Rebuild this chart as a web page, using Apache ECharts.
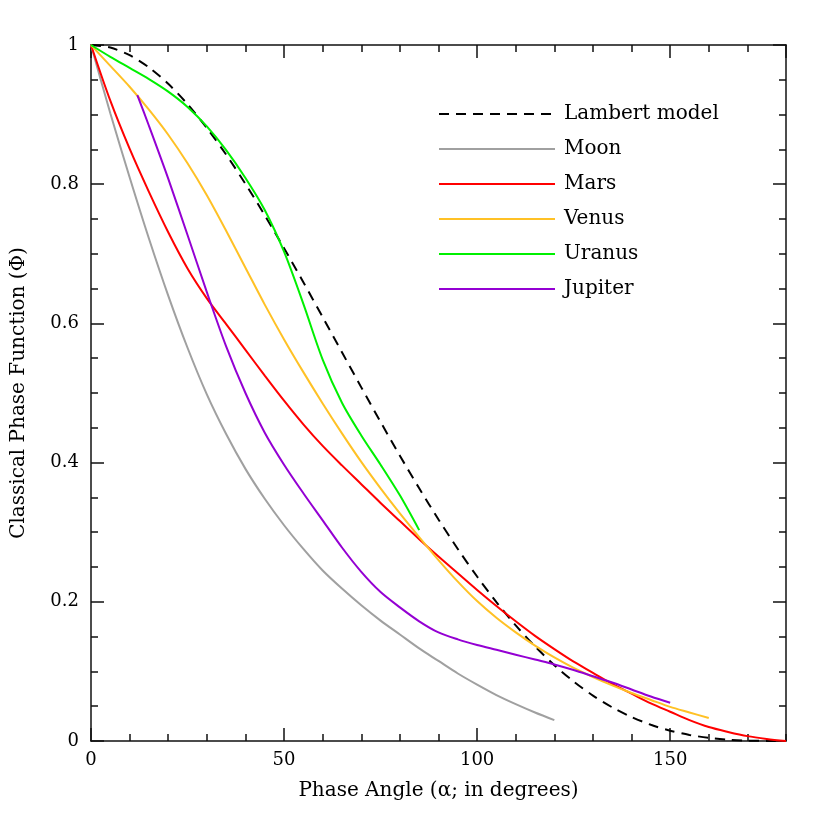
<!DOCTYPE html>
<html>
<head>
<meta charset="utf-8">
<script src="https://cdn.jsdelivr.net/npm/echarts@6/dist/echarts.min.js"></script>
<style>
  html, body { margin: 0; padding: 0; background: #fff; }
  #main { width: 830px; height: 830px; }
</style>
</head>
<body>
<div id="main"></div>
<script>
// values (phase angle in degrees, phase function)
var lambertAngle = [0,5,10,15,20,25,30,35,40,45,50,55,60,65,70,75,80,85,90,95,100,105,110,115,120,125,130,135,140,145,150,155,160,165,170,175,180];
var lambertPhi = [1,0.9963,0.9854,0.9678,0.9442,0.9150,0.8808,0.8425,0.8004,0.7554,0.7081,0.6591,0.6090,0.5585,0.5081,0.4584,0.4099,0.3631,0.3183,0.2759,0.2363,0.1996,0.1661,0.1359,0.1090,0.0855,0.0653,0.0483,0.0344,0.0233,0.0148,0.0087,0.0045,0.0019,0.0005,0.0001,0];

var moonAngle = [0,5,10,15,20,25,30,35,40,45,50,55,60,65,70,75,80,85,90,95,100,105,110,115,120];
var moonPhi = [1,0.902,0.810,0.722,0.640,0.565,0.498,0.441,0.391,0.348,0.310,0.276,0.245,0.219,0.195,0.173,0.153,0.133,0.115,0.097,0.081,0.066,0.053,0.041,0.03];

var marsAngle = [0,5,10,15,20,25,30,35,40,45,50,55,60,65,70,75,80,85,90,95,100,105,110,115,120,125,130,135,140,145,150,155,160,165,170,175,180];
var marsPhi = [1,0.92,0.851,0.789,0.731,0.679,0.636,0.599,0.562,0.525,0.489,0.455,0.424,0.396,0.369,0.342,0.316,0.29,0.265,0.241,0.217,0.194,0.172,0.151,0.132,0.114,0.098,0.082,0.068,0.054,0.042,0.030,0.020,0.013,0.007,0.003,0];

var venusAngle = [0,5,10,15,20,25,30,35,40,45,50,55,60,65,70,75,80,85,90,95,100,105,110,115,120,125,130,135,140,145,150,155,160];
var venusPhi = [1,0.970,0.940,0.907,0.871,0.830,0.784,0.733,0.680,0.627,0.577,0.530,0.485,0.442,0.401,0.363,0.327,0.293,0.260,0.229,0.201,0.177,0.156,0.137,0.120,0.105,0.092,0.080,0.069,0.059,0.049,0.041,0.033];

var uranusAngle = [0,5,10,15,20,25,30,35,40,45,50,55,60,65,70,75,80,85];
var uranusPhi = [1,0.983,0.967,0.951,0.933,0.911,0.883,0.849,0.809,0.763,0.703,0.628,0.548,0.486,0.439,0.397,0.353,0.303];

var jupiterAngle = [12,15,20,25,30,35,40,45,50,55,60,65,70,75,80,85,90,95,100,105,110,115,120,125,130,135,140,145,150];
var jupiterPhi = [0.928,0.884,0.808,0.727,0.645,0.567,0.500,0.443,0.397,0.356,0.317,0.278,0.243,0.214,0.192,0.172,0.156,0.146,0.138,0.131,0.124,0.117,0.110,0.102,0.093,0.084,0.074,0.064,0.055];

function pairs(xs, ys){
	var out = [];
	for (var i = 0; i < xs.length; i++) { out.push([xs[i], ys[i]]); }
	return out;
}

var fontName = 'DejaVu Serif';
var frameColor = '#111';
var gridBox = { left: 91, right: 44, top: 45, bottom: 89, containLabel: false };

function lineSeries(name, xs, ys, color, dashed){
	return {
		name: name,
		type: 'line',
		xAxisIndex: 0, yAxisIndex: 0,
		data: pairs(xs, ys),
		symbol: 'none',
		showSymbol: false,
		smooth: 0.3,
		lineStyle: { color: color, width: 2, type: dashed ? [10, 7] : 'solid' },
		itemStyle: { color: color },
		z: dashed ? 1 : 2
	};
}

// grid 0 carries the short ticks, grid 1 (same box) the long ticks and labels
function xAxisDef(grid, pos, step, len, withLabels){
	return {
		gridIndex: grid, type: 'value', position: pos, min: 0, max: 180, interval: step,
		axisLine: { show: grid === 0, onZero: false, lineStyle: { color: frameColor, width: 1.5 } },
		axisTick: { show: true, inside: true, length: len, lineStyle: { color: frameColor, width: 1.5 } },
		axisLabel: withLabels ? {
			show: true, margin: 10, color: '#000', fontSize: 18, fontFamily: fontName, showMaxLabel: false
		} : { show: false },
		splitLine: { show: false },
		name: withLabels ? 'Phase Angle (\u03b1; in degrees)' : '',
		nameLocation: 'middle', nameGap: 40,
		nameTextStyle: { color: '#000', fontSize: 20, fontFamily: fontName }
	};
}

function yAxisDef(grid, pos, step, len, withLabels){
	return {
		gridIndex: grid, type: 'value', position: pos, min: 0, max: 1, interval: step,
		axisLine: { show: grid === 0, onZero: false, lineStyle: { color: frameColor, width: 1.5 } },
		axisTick: { show: true, inside: true, length: len, lineStyle: { color: frameColor, width: 1.5 } },
		axisLabel: withLabels ? { show: true, margin: 12, color: '#000', fontSize: 18, fontFamily: fontName } : { show: false },
		splitLine: { show: false },
		name: withLabels ? 'Classical Phase Function (\u03a6)' : '',
		nameLocation: 'middle', nameGap: 62,
		nameTextStyle: { color: '#000', fontSize: 20, fontFamily: fontName }
	};
}

var myChart = echarts.init(document.getElementById('main'));
var option = {
	animation: false,
	backgroundColor: '#fff',
	grid: [gridBox, gridBox],
	legend: {
		orient: 'vertical',
		left: 433, top: 94,
		itemWidth: 116, itemHeight: 14, itemGap: 5,
		itemStyle: { opacity: 0 },
		textStyle: { color: '#000', fontSize: 20, lineHeight: 20, fontFamily: fontName, padding: [0, 0, 10, 4] },
		data: ['Lambert model', 'Moon', 'Mars', 'Venus', 'Uranus', 'Jupiter']
	},
	xAxis: [
		xAxisDef(0, 'bottom', 10, 7, false),
		xAxisDef(0, 'top', 10, 7, false),
		xAxisDef(1, 'bottom', 50, 13, true),
		xAxisDef(1, 'top', 50, 13, false)
	],
	yAxis: [
		yAxisDef(0, 'left', 0.05, 7, false),
		yAxisDef(0, 'right', 0.05, 7, false),
		yAxisDef(1, 'left', 0.2, 13, true),
		yAxisDef(1, 'right', 0.2, 13, false)
	],
	series: [
		lineSeries('Lambert model', lambertAngle, lambertPhi, '#000000', true),
		lineSeries('Moon', moonAngle, moonPhi, '#a0a0a0', false),
		lineSeries('Mars', marsAngle, marsPhi, '#ff0000', false),
		lineSeries('Venus', venusAngle, venusPhi, '#ffc125', false),
		lineSeries('Uranus', uranusAngle, uranusPhi, '#00f000', false),
		lineSeries('Jupiter', jupiterAngle, jupiterPhi, '#9400d3', false)
	]
};
myChart.setOption(option);
</script>
</body>
</html>
